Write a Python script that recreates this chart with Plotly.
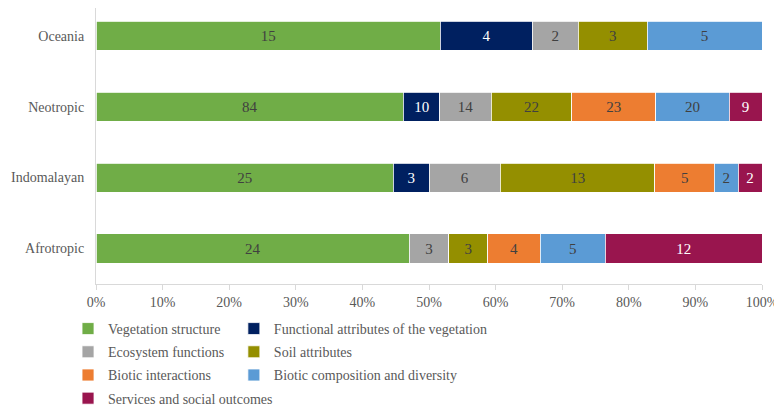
import plotly.graph_objects as go

# regions, top to bottom in the picture
regions = ["Oceania", "Neotropic", "Indomalayan", "Afrotropic"]

vegetation_structure = [15, 84, 25, 24]
functional_attributes = [4, 10, 3, 0]
ecosystem_functions = [2, 14, 6, 3]
soil_attributes = [3, 22, 13, 3]
biotic_interactions = [0, 23, 5, 4]
biotic_composition = [5, 20, 2, 5]
services_social = [0, 9, 2, 12]

tick_vals = [0, 10, 20, 30, 40, 50, 60, 70, 80, 90, 100]
tick_text = [f"{v}%" for v in tick_vals]

# name, values, colour, label colour, which legend column
series = [
    ("Vegetation structure", vegetation_structure, "#70AD47", "#404040", "legend"),
    ("Functional attributes of the vegetation", functional_attributes, "#002060", "white", "legend2"),
    ("Ecosystem functions", ecosystem_functions, "#A5A5A5", "#404040", "legend"),
    ("Soil attributes", soil_attributes, "#948F00", "#404040", "legend2"),
    ("Biotic interactions", biotic_interactions, "#ED7D31", "#404040", "legend"),
    ("Biotic composition and diversity", biotic_composition, "#5B9BD5", "#404040", "legend2"),
    ("Services and social outcomes", services_social, "#99154E", "white", "legend"),
]

fig = go.Figure()
for name, vals, color, txtcol, leg in series:
    # no label for empty segments
    labels = [str(v) if v else "" for v in vals]
    fig.add_trace(go.Bar(
        y=regions, x=vals, name=name, orientation="h",
        marker=dict(color=color, line=dict(color="white", width=0.8)),
        text=labels, texttemplate="%{text}", textposition="inside",
        insidetextanchor="middle", textangle=0,
        insidetextfont=dict(color=txtcol, size=15, family="Liberation Serif"),
        width=0.41, legend=leg, legendgroup=name,
    ))

leg_font = dict(size=14, color="#595959", family="Liberation Serif")

fig.update_layout(
    width=782, height=410,
    barmode="stack", barnorm="percent",
    plot_bgcolor="white", paper_bgcolor="white",
    margin=dict(l=88, r=28, t=0, b=134, autoexpand=False),
    font=dict(family="Liberation Serif", size=14, color="#595959"),
    uniformtext=dict(mode="show", minsize=10),
    xaxis=dict(range=[0, 100], tickvals=tick_vals, ticktext=tick_text,
               showgrid=False, zeroline=False, showline=True, linecolor="#D9D9D9",
               ticks="outside", ticklen=5, tickcolor="#D9D9D9",
               tickfont=dict(size=14)),
    yaxis=dict(categoryorder="array", categoryarray=regions[::-1],
               range=[-0.5, 3.39],
               showgrid=False, showline=True, linecolor="#D9D9D9", ticks="",
               ticklabelstandoff=8, tickfont=dict(size=14)),
    legend=dict(orientation="v", x=-0.042, y=-0.105, xanchor="left", yanchor="top",
                traceorder="grouped", font=leg_font, itemwidth=30, tracegroupgap=2),
    legend2=dict(orientation="v", x=0.207, y=-0.105, xanchor="left", yanchor="top",
                 traceorder="grouped", font=leg_font, itemwidth=30, tracegroupgap=2),
    showlegend=True,
)

fig.write_html("out.html")
